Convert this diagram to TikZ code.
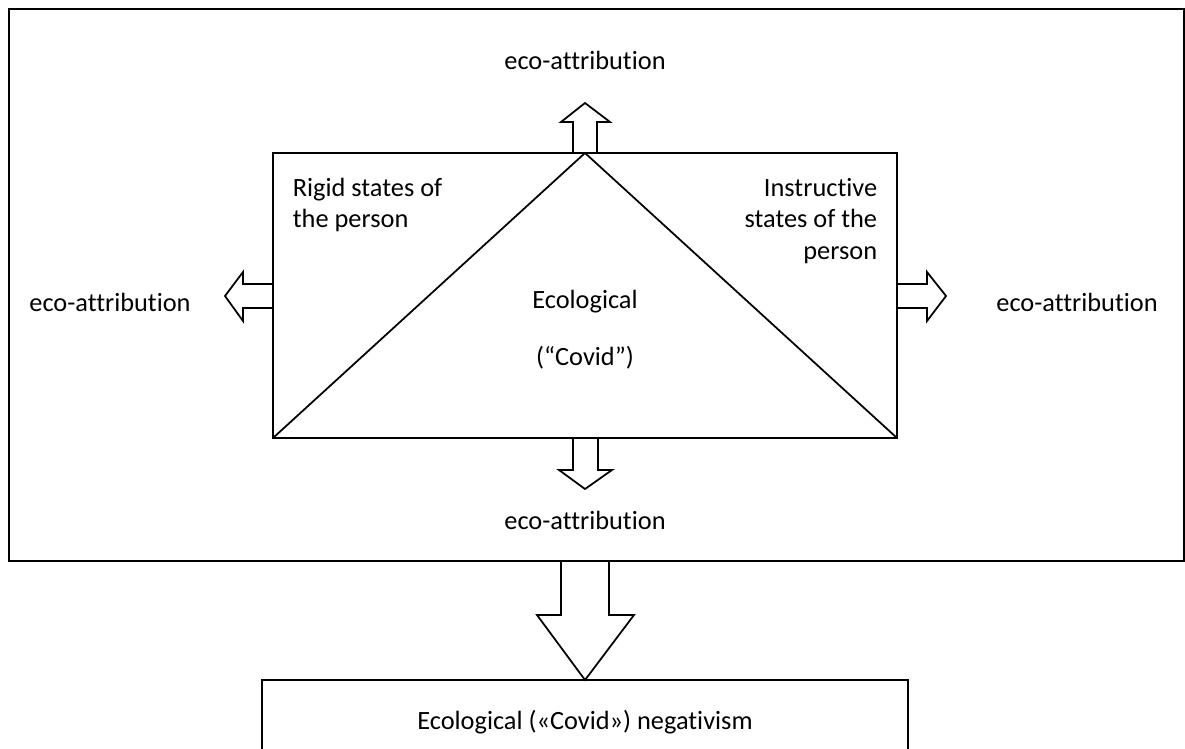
\documentclass[tikz,border=0pt]{standalone}
\usepackage{fontspec}
\setmainfont[Ligatures=NoCommon]{Carlito}
\begin{document}
\begin{tikzpicture}[x=0.02cm,y=-0.02cm,line width=1pt,line join=miter]

      \useasboundingbox (0,0) rectangle (1185,749);
      \clip (0,0) rectangle (1185,749);

      % frames
      \draw (9,9) rectangle (1184,561);
      \draw (273,153) rectangle (897,438);
      \draw (262,760) -- (262,680) -- (908,680) -- (908,760);

      % triangle
      \coordinate (apex) at (585,153);
      \coordinate (bl)   at (273,438);
      \coordinate (br)   at (897,438);
      \draw (bl) -- (apex) -- (br);

      % block arrows
      \draw (573,153) -- (573,122) -- (561,122) -- (585,103) -- (610,122) -- (597,122) -- (597,153);
      \draw (273,284) -- (243,284) -- (243,272) -- (225,296) -- (243,321) -- (243,308) -- (273,308);
      \draw (897,284) -- (927,284) -- (927,272) -- (946,296) -- (927,321) -- (927,308) -- (897,308);
      \draw (573,438) -- (573,470) -- (559,470) -- (585,489) -- (612,470) -- (598,470) -- (598,438);
      \draw (561,561) -- (561,615) -- (537,615) -- (585,680) -- (634,615) -- (609,615) -- (609,561);

      \begin{scope}[every node/.style={font=\fontsize{15}{18}\selectfont,inner sep=0pt}]
        \node (top)    at (585,60)  {eco-attribution};
        \node (left)   at (110,302) {eco-attribution};
        \node (right)  at (1077,302) {eco-attribution};
        \node (bottom) at (585,520) {eco-attribution};
        \node[anchor=west,align=left] (rigid) at (292,205) {Rigid states of\\the person};
        \node[anchor=east,align=right] (instr) at (878,221) {Instructive\\states of the\\person};
        \node (eco)   at (585,302) {Ecological};
        \node (covid) at (585,358) {(“Covid”)};
        \node (neg)   at (585,722) {Ecological («Covid») negativism};
      \end{scope}

    \end{tikzpicture}
\end{document}
